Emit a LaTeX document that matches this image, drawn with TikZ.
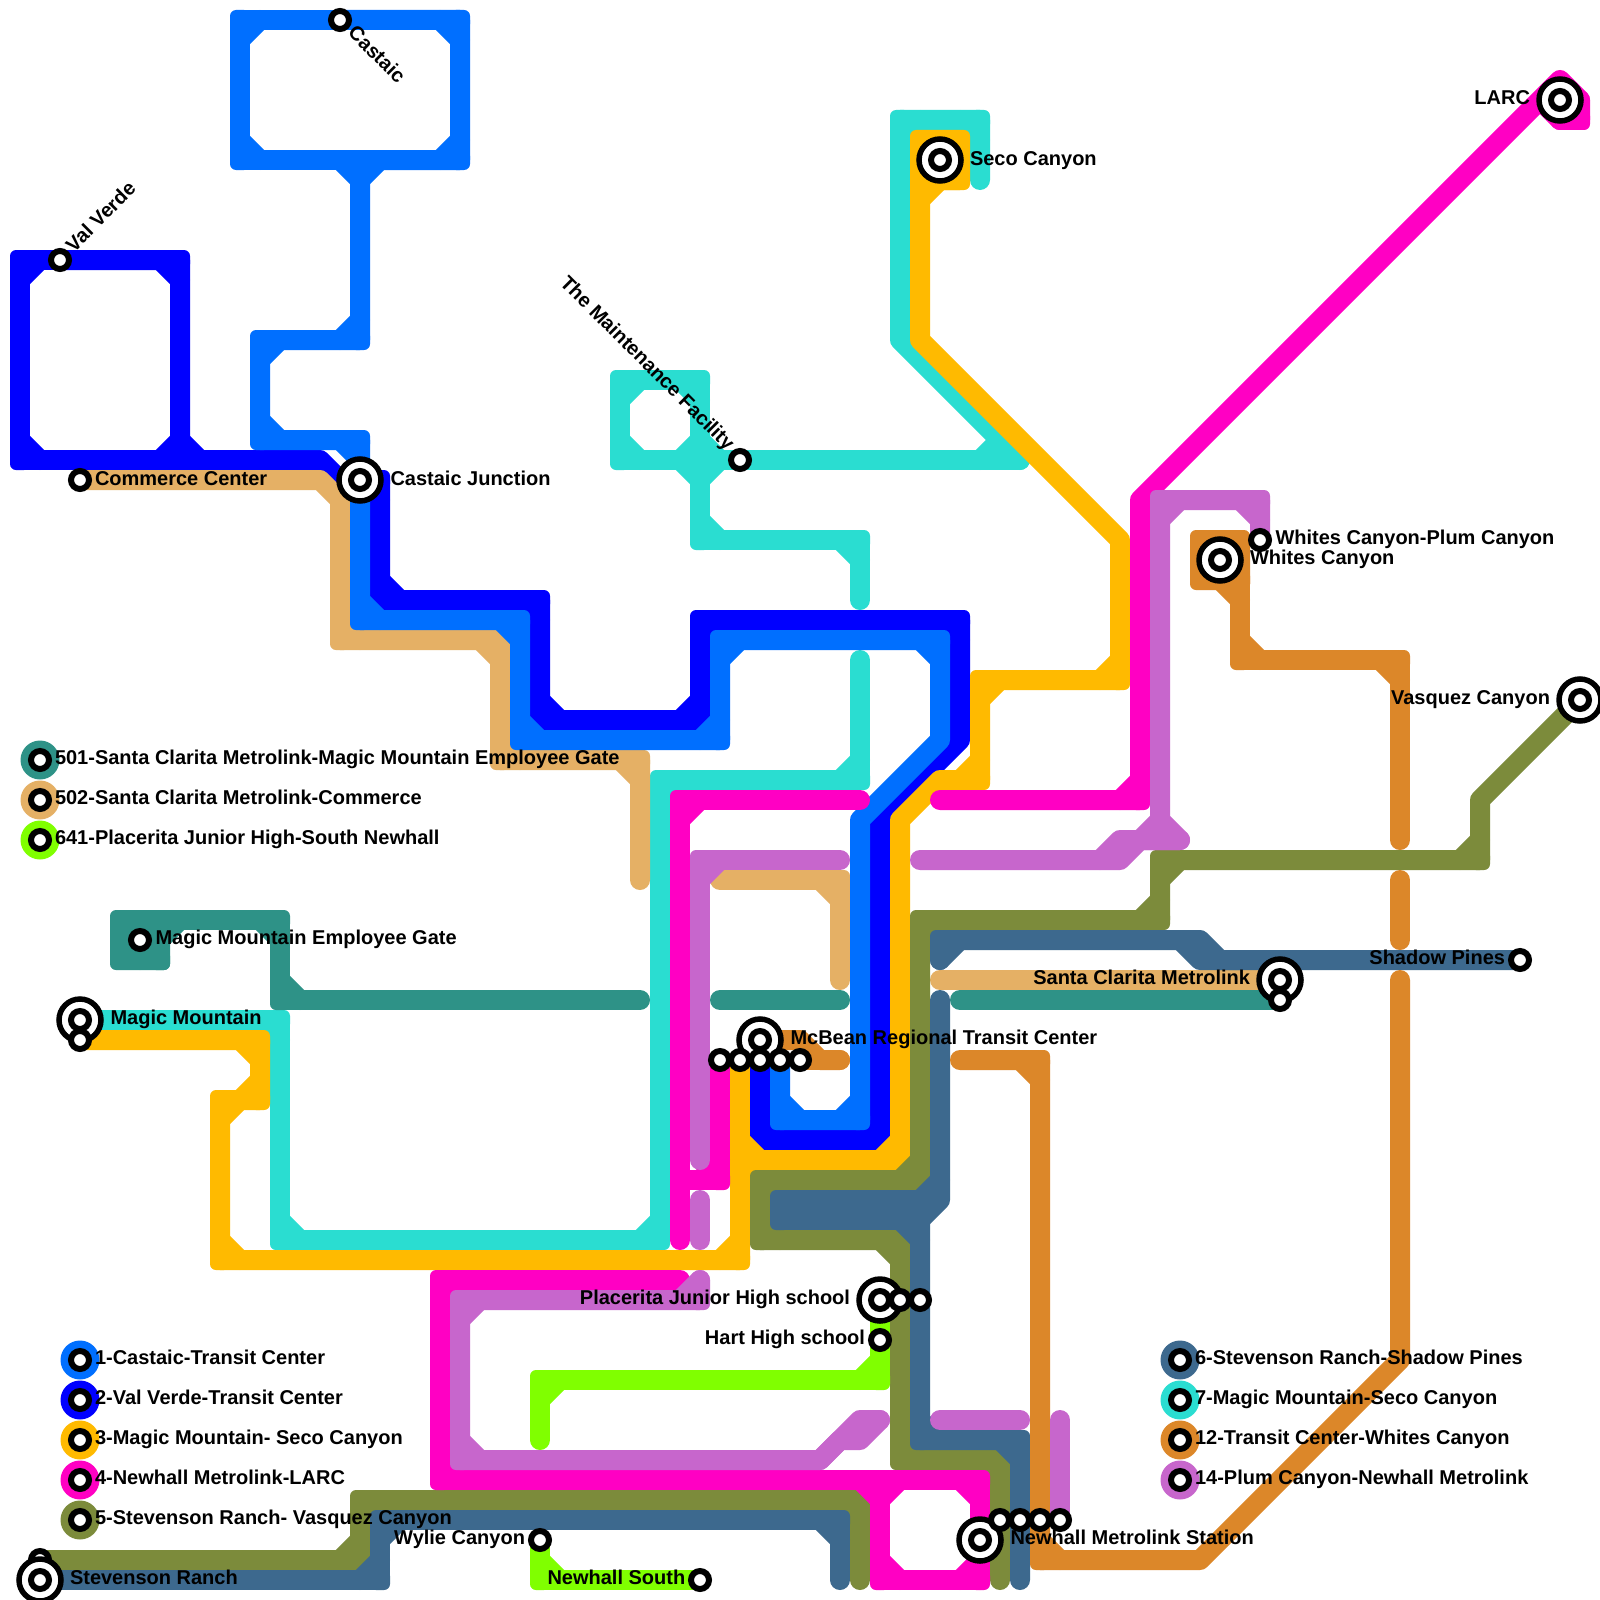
\documentclass[tikz,border=0pt]{standalone}
\usepackage{fontspec}
\setmainfont{Liberation Sans}
\definecolor{cLight}{HTML}{006FFF}
\definecolor{cDark}{HTML}{0000FF}
\definecolor{cYellow}{HTML}{FFBA00}
\definecolor{cMagenta}{HTML}{FF00C3}
\definecolor{cOlive}{HTML}{7C8B3B}
\definecolor{cSteel}{HTML}{3D698E}
\definecolor{cTurq}{HTML}{2ADDD1}
\definecolor{cOrange}{HTML}{DC8729}
\definecolor{cPurple}{HTML}{C766CC}
\definecolor{cTeal}{HTML}{2E9287}
\definecolor{cTan}{HTML}{E5B065}
\definecolor{cGreen}{HTML}{80FF00}
\tikzset{
  route/.style={line width=20pt,line cap=round,line join=round},
  smallring/.style={circle,draw=black,fill=white,line width=6pt,minimum size=18pt,inner sep=0pt,outer sep=0pt},
  bigring/.style={circle,draw=black,fill=white,line width=5.5pt,minimum size=42pt,inner sep=0pt,outer sep=0pt},
  legdisc/.style={circle,minimum size=39pt,inner sep=0pt,outer sep=0pt},
  lab/.style={inner sep=0pt,outer sep=0pt,font=\fontsize{20}{24}\selectfont\bfseries,anchor=base west},
  labr/.style={lab,anchor=base east},
}
% one route: colour, then x/y list; right-angle turns get a chamfered inside and a nearly square outside
\newcommand\ML[2]{%
  \gdef\mlp{}%
  \foreach \X/\Y [count=\i] in {#2}{%
    \ifnum\i=1 \xdef\mlp{(\X,\Y)}\else\xdef\mlp{\mlp -- (\X,\Y)}\fi}%
  \draw[route,#1] \mlp;
  \foreach \X/\Y [count=\i] in {#2}{%
    \ifnum\i>2
      \pgfmathsetmacro\ax{\mlBX-\mlAX}\pgfmathsetmacro\ay{\mlBY-\mlAY}%
      \pgfmathsetmacro\bx{\X-\mlBX}\pgfmathsetmacro\by{\Y-\mlBY}%
      \pgfmathparse{((abs(\ax)<.5 && abs(\by)<.5) || (abs(\ay)<.5 && abs(\bx)<.5)) ? 1 : 0}%
      \ifdim\pgfmathresult pt>0.5pt
        \pgfmathsetmacro\cax{\mlBX-20*\ax/max(abs(\ax),1)}\pgfmathsetmacro\cay{\mlBY-20*\ay/max(abs(\ay),1)}%
        \pgfmathsetmacro\cbx{\mlBX+20*\bx/max(abs(\bx),1)}\pgfmathsetmacro\cby{\mlBY+20*\by/max(abs(\by),1)}%
        \draw[route,#1] (\cax,\cay) -- (\cbx,\cby);
        \fill[#1,rounded corners=6pt] (\mlBX-10,\mlBY-10) rectangle (\mlBX+10,\mlBY+10);
      \fi
    \fi
    \ifnum\i>1 \xdef\mlAX{\mlBX}\xdef\mlAY{\mlBY}\fi
    \xdef\mlBX{\X}\xdef\mlBY{\Y}%
  }%
}
\newcommand\BigS[3]{\node[bigring] (#1) at (#2,#3) {};\node[smallring] (#1i) at (#2,#3) {};}
\newcommand\SmS[3]{\node[smallring] (#1) at (#2,#3) {};}
\newcommand\Leg[4]{\node[legdisc,fill=#2] (#1) at (#3,#4) {};\node[smallring] (#1i) at (#3,#4) {};}
\begin{document}
\begin{tikzpicture}[x=1pt,y=-1pt]
\useasboundingbox[fill=white] (0,0) rectangle (1600,1600);
% 7 Magic Mountain - Seco Canyon
\ML{cTurq}{80/1020,280/1020,280/1240,660/1240,660/780,860/780,860/660}
\ML{cTurq}{860/600,860/540,700/540,700/460,620/460,620/380,700/380,700/460,620/460}
\ML{cTurq}{700/540,700/460,1020/460}
\ML{cTurq}{720/460,700/460,700/440}
\ML{cTurq}{980/180,980/120,900/120,900/340,1020/460}
\draw[route,cTurq] (980,460) -- (1000,440);
% 2 Val Verde
\ML{cDark}{60/260,180/260,180/460,320/460,340/480,380/480,380/600,540/600,540/720,700/720,700/620,960/620,960/740,880/820,880/1140,760/1140,760/1060}
\ML{cDark}{60/260,20/260,20/460,180/460,180/400}
% 502
\ML{cTan}{80/480,320/480,340/500,340/640,500/640,500/760,640/760,640/880}
\ML{cTan}{720/880,840/880,840/980}
\ML{cTan}{940/980,1280/980}
% 1 Castaic
\ML{cLight}{340/20,460/20,460/160,360/160,360/340,260/340,260/440,360/440,360/620,520/620,520/740,720/740,720/640,940/640,940/740,860/820,860/1120,780/1120,780/1060}
\ML{cLight}{340/20,240/20,240/160,360/160,360/300}
% 501
\fill[cTeal,rounded corners=6pt] (110,910) rectangle (170,970);
\ML{cTeal}{120/960,160/960,160/920,280/920,280/1000,640/1000}
\ML{cTeal}{720/1000,840/1000}
\ML{cTeal}{960/1000,1280/1000}
% 3 Magic Mountain - Seco Canyon
\fill[cYellow,rounded corners=6pt] (910,130) rectangle (970,190);
\ML{cYellow}{80/1040,260/1040,260/1100,220/1100,220/1260,740/1260,740/1160,900/1160,900/820,940/780,980/780,980/680,1120/680,1120/540,920/340,920/180,960/180}
\ML{cYellow}{740/1060,740/1160,880/1160}
% 5 Stevenson Ranch - Vasquez Canyon
\ML{cOlive}{1580/700,1480/800,1480/860,1160/860,1160/920,920/920,920/1180,760/1180,760/1240,900/1240,900/1460,1000/1460,1000/1580}
\ML{cOlive}{40/1560,360/1560,360/1500,860/1500,860/1580}
% 641
\ML{cGreen}{540/1440,540/1380,880/1380,880/1300}
\ML{cGreen}{540/1540,540/1580,700/1580}
% 6 Stevenson Ranch - Shadow Pines
\ML{cSteel}{1520/960,1220/960,1200/940,940/940,940/960}
\ML{cSteel}{1180/940,1200/960,1240/960}
\ML{cSteel}{940/1000,940/1200,920/1220,920/1440,1020/1440,1020/1580}
\fill[cSteel] (780,1195) rectangle (925,1225);
\ML{cSteel}{920/1240,920/1220,780/1220,780/1200,930/1200}
\draw[route,cSteel] (920,1200) -- (940,1180);
\ML{cSteel}{40/1580,380/1580,380/1520,840/1520,840/1580}
% 12 Transit Center - Whites Canyon
\fill[cOrange,rounded corners=6pt] (1190,530) rectangle (1250,590);
\ML{cOrange}{1200/580,1240/580,1240/660,1400/660,1400/840}
\ML{cOrange}{1400/880,1400/940}
\ML{cOrange}{1400/980,1400/1360,1200/1560,1040/1560,1040/1060,960/1060}
\ML{cOrange}{760/1040,800/1040,820/1060,840/1060}
\ML{cOrange}{800/1060,840/1060}
% 4 Newhall Metrolink - LARC
\ML{cMagenta}{940/800,1140/800,1140/500,1560/80,1580/100,1580/120,1560/120,1540/100}
\ML{cMagenta}{860/800,680/800,680/1240}
\ML{cMagenta}{720/1060,720/1180,680/1180}
\ML{cMagenta}{680/1280,440/1280,440/1480,880/1480,880/1580,980/1580,980/1480}
\ML{cMagenta}{880/1580,880/1480,980/1480,980/1580}
% 14 Plum Canyon - Newhall Metrolink
\ML{cPurple}{1260/540,1260/500,1160/500,1160/820,1180/840,1140/840,1120/860,920/860}
\ML{cPurple}{1100/860,1120/840,1180/840}
\ML{cPurple}{1160/820,1140/840}
\ML{cPurple}{840/860,700/860,700/1160}
\ML{cPurple}{700/1200,700/1240}
\ML{cPurple}{700/1280,700/1300,460/1300,460/1460,820/1460,860/1420,880/1420}
\ML{cPurple}{880/1420,860/1440,840/1440,820/1460}
\ML{cPurple}{940/1420,1020/1420}
\ML{cPurple}{1060/1420,1060/1520}
% stations
\SmS{stevB}{40}{1560}
\BigS{junction}{360}{480}
\BigS{seco}{940}{160}
\BigS{larc}{1560}{100}
\BigS{whites}{1220}{560}
\BigS{vasquez}{1580}{700}
\BigS{santa}{1280}{980}
\BigS{mcbean}{760}{1040}
\BigS{magic}{80}{1020}
\BigS{stevenson}{40}{1580}
\BigS{placerita}{880}{1300}
\BigS{newhall}{980}{1540}
\SmS{castaic}{340}{20}
\SmS{valverde}{60}{260}
\SmS{commerce}{80}{480}
\SmS{maint}{740}{460}
\SmS{plum}{1260}{540}
\SmS{gate}{140}{940}
\SmS{shadow}{1520}{960}
\SmS{hart}{880}{1340}
\SmS{wylie}{540}{1540}
\SmS{south}{700}{1580}
\SmS{magicB}{80}{1040}
\SmS{santaB}{1280}{1000}
\SmS{mcA}{720}{1060}\SmS{mcB}{740}{1060}\SmS{mcC}{760}{1060}\SmS{mcD}{780}{1060}\SmS{mcE}{800}{1060}
\SmS{plA}{900}{1300}\SmS{plB}{920}{1300}
\SmS{nwA}{1000}{1520}\SmS{nwB}{1020}{1520}\SmS{nwC}{1040}{1520}\SmS{nwD}{1060}{1520}
% legend
\Leg{l501}{cTeal}{40}{760}
\Leg{l502}{cTan}{40}{800}
\Leg{l641}{cGreen}{40}{840}
\Leg{l1}{cLight}{80}{1360}
\Leg{l2}{cDark}{80}{1400}
\Leg{l3}{cYellow}{80}{1440}
\Leg{l4}{cMagenta}{80}{1480}
\Leg{l5}{cOlive}{80}{1520}
\Leg{l6}{cSteel}{1180}{1360}
\Leg{l7}{cTurq}{1180}{1400}
\Leg{l12}{cOrange}{1180}{1440}
\Leg{l14}{cPurple}{1180}{1480}
% labels
\node[lab,rotate=-45] (tCastaic) at (347,34) {Castaic};
\node[lab,rotate=45] (tVal) at (74,253) {Val Verde};
\node[lab] (tCommerce) at (95,485) {Commerce Center};
\node[lab] (tJunction) at (390.5,485) {Castaic Junction};
\node[lab] (tSeco) at (970,165) {Seco Canyon};
\node[lab,rotate=-45] (tMaint) at (559,284) {The Maintenance Facility};
\node[labr] (tLarc) at (1530,105) {LARC};
\node[lab] (tPlum) at (1275.5,544.5) {Whites Canyon-Plum Canyon};
\node[lab] (tWhites) at (1250,564.5) {Whites Canyon};
\node[labr] (tVasquez) at (1550,704.3) {Vasquez Canyon};
\node[labr] (tShadow) at (1505,964.3) {Shadow Pines};
\node[labr] (tSanta) at (1250,984.3) {Santa Clarita Metrolink};
\node[lab] (tMcBean) at (790.5,1044.3) {McBean Regional Transit Center};
\node[lab] (tMagic) at (110.5,1024.3) {Magic Mountain};
\node[lab] (tGate) at (155.5,944.3) {Magic Mountain Employee Gate};
\node[lab] (tStevenson) at (70,1584.3) {Stevenson Ranch};
\node[labr] (tWylie) at (525,1544.3) {Wylie Canyon};
\node[lab] (tSouth) at (547.5,1584.3) {Newhall South};
\node[labr] (tPlacerita) at (850,1304.3) {Placerita Junior High school};
\node[labr] (tHart) at (865,1344.3) {Hart High school};
\node[lab] (tNewhall) at (1010.5,1544.3) {Newhall Metrolink Station};
\node[lab] (t501) at (55,764.3) {501-Santa Clarita Metrolink-Magic Mountain Employee Gate};
\node[lab] (t502) at (55,804.3) {502-Santa Clarita Metrolink-Commerce};
\node[lab] (t641) at (55,844.3) {641-Placerita Junior High-South Newhall};
\node[lab] (t1) at (95,1364.3) {1-Castaic-Transit Center};
\node[lab] (t2) at (95,1404.3) {2-Val Verde-Transit Center};
\node[lab] (t3) at (95,1444.3) {3-Magic Mountain- Seco Canyon};
\node[lab] (t4) at (95,1484.3) {4-Newhall Metrolink-LARC};
\node[lab] (t5) at (95,1524.3) {5-Stevenson Ranch- Vasquez Canyon};
\node[lab] (t6) at (1195,1364.3) {6-Stevenson Ranch-Shadow Pines};
\node[lab] (t7) at (1195,1404.3) {7-Magic Mountain-Seco Canyon};
\node[lab] (t12) at (1195,1444.3) {12-Transit Center-Whites Canyon};
\node[lab] (t14) at (1195,1484.3) {14-Plum Canyon-Newhall Metrolink};
\end{tikzpicture}
\end{document}
